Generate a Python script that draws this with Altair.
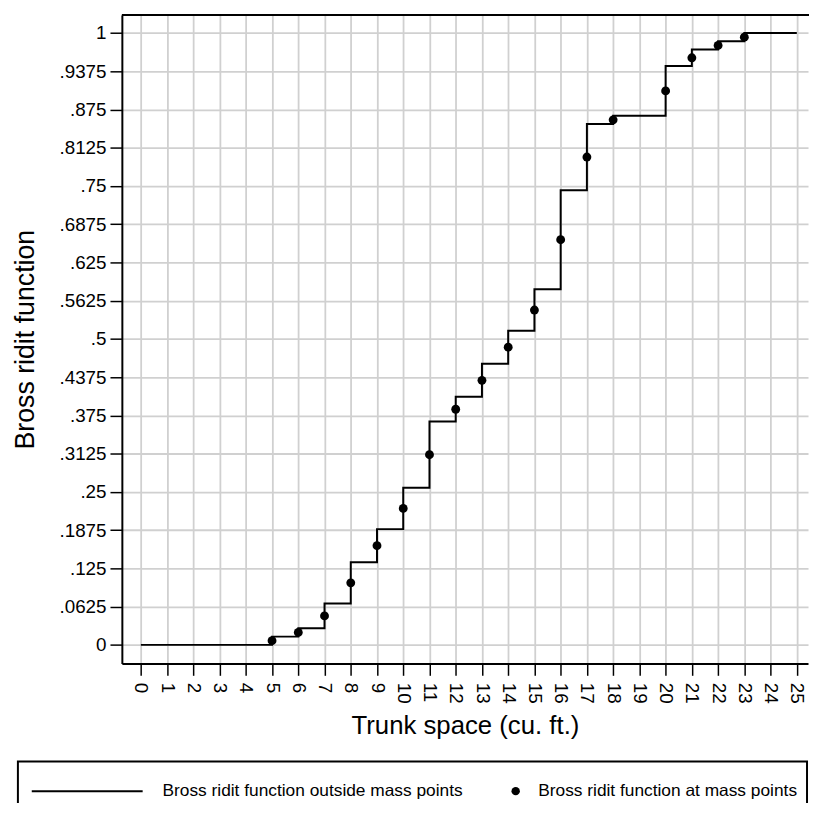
import altair as alt
import pandas as pd

FONT = "Liberation Sans"
LINE_LABEL = "Bross ridit function outside mass points"
PT_LABEL = "Bross ridit function at mass points"

# Step function (value on [x, x+1))
x_line = [0, 1, 2, 3, 4, 5, 6, 7, 8, 9, 10, 11, 12, 13, 14, 15, 16, 17, 18, 19, 20, 21, 22, 23, 24, 25]
y_line = [0, 0, 0, 0, 0, 0.0135, 0.0270, 0.0676, 0.1351, 0.1892, 0.2568, 0.3649, 0.4054,
          0.4595, 0.5135, 0.5811, 0.7432, 0.8514, 0.8649, 0.8649, 0.9459, 0.9730, 0.9865,
          1.0, 1.0, 1.0]

# Values at mass points
x_pts = [5, 6, 7, 8, 9, 10, 11, 12, 13, 14, 15, 16, 17, 18, 20, 21, 22, 23]
y_pts = [0.0068, 0.0203, 0.0473, 0.1014, 0.1622, 0.2230, 0.3108, 0.3851, 0.4324, 0.4865,
         0.5473, 0.6622, 0.7973, 0.8581, 0.9054, 0.9595, 0.9797, 0.9932]

x_ticks = [0, 1, 2, 3, 4, 5, 6, 7, 8, 9, 10, 11, 12, 13, 14, 15, 16, 17, 18, 19, 20, 21, 22, 23, 24, 25]
y_ticks = [0, 0.0625, 0.125, 0.1875, 0.25, 0.3125, 0.375, 0.4375, 0.5, 0.5625, 0.625,
           0.6875, 0.75, 0.8125, 0.875, 0.9375, 1]

line_df = pd.DataFrame({"x": x_line, "y": y_line, "series": LINE_LABEL})
pts_df = pd.DataFrame({"x": x_pts, "y": y_pts, "series2": PT_LABEL})
frame_df = pd.DataFrame({"k": [0]})

xscale = alt.Scale(domain=[-0.724, 25.427], nice=False, zero=False)
yscale = alt.Scale(domain=[-0.0303, 1.0296], nice=False, zero=False)

y_label_expr = ("datum.value == 0 ? '0' : (datum.value == 1 ? '1' : "
                "replace(format(datum.value, '.4~f'), '0.', '.'))")

x_axis = alt.Axis(values=x_ticks, labelAngle=90, title="Trunk space (cu. ft.)",
                  grid=True, tickSize=12, tickWidth=1.5, labelPadding=7,
                  labelFontSize=19, titleFontSize=26, titlePadding=10,
                  domainWidth=2, labelOverlap=False)
y_axis = alt.Axis(values=y_ticks, labelExpr=y_label_expr, title="Bross ridit function",
                  grid=True, tickSize=12, tickWidth=1.5, labelPadding=4,
                  labelFontSize=19, titleFontSize=27, titlePadding=20,
                  domainWidth=2, labelOverlap=False)

line = alt.Chart(line_df).mark_line(interpolate="step-after", strokeWidth=2).encode(
    x=alt.X("x:Q", scale=xscale, axis=x_axis),
    y=alt.Y("y:Q", scale=yscale, axis=y_axis),
    color=alt.Color("series:N", scale=alt.Scale(domain=[LINE_LABEL], range=["black"]),
                    legend=alt.Legend(title=None, orient="none", legendX=-92, legendY=774,
                                      symbolType="stroke", symbolSize=12544,
                                      symbolStrokeWidth=2, symbolStrokeColor="black",
                                      labelFontSize=17.5, labelFont=FONT, labelColor="black",
                                      labelOffset=19, padding=0, labelLimit=0, clipHeight=20)),
)

points = alt.Chart(pts_df).mark_point(filled=True, size=80, color="black", opacity=1).encode(
    x=alt.X("x:Q", scale=xscale, axis=x_axis),
    y=alt.Y("y:Q", scale=yscale, axis=y_axis),
    shape=alt.Shape("series2:N", scale=alt.Scale(domain=[PT_LABEL], range=["circle"]),
                    legend=alt.Legend(title=None, orient="none", legendX=389, legendY=774,
                                      symbolType="circle", symbolSize=72,
                                      symbolFillColor="black", symbolStrokeColor="black",
                                      symbolStrokeWidth=0,
                                      labelFontSize=17.5, labelFont=FONT, labelColor="black",
                                      labelOffset=14, padding=0, labelLimit=0, clipHeight=20)),
)

top_border = alt.Chart(frame_df).mark_rule(color="black", strokeWidth=2).encode(
    x=alt.value(0), x2=alt.value(694), y=alt.value(0)
)

frame = alt.Chart(frame_df).mark_rect(fillOpacity=0, stroke="black", strokeWidth=2).encode(
    x=alt.value(-105), x2=alt.value(692), y=alt.value(754), y2=alt.value(815)
)

chart = alt.layer(line, points, top_border, frame).properties(
    width=693, height=655,
    autosize=alt.AutoSizeParams(type="none"),
    padding={"left": 115, "top": 3, "right": 1, "bottom": 137},
    background="white",
).configure_view(strokeWidth=0).configure_axis(
    labelFont=FONT, titleFont=FONT, labelColor="black", titleColor="black",
    tickColor="black", domainColor="black", gridColor="#d0d0d0", gridWidth=1.8,
    titleFontWeight="normal",
)

chart.save("out.html", embed_options={"renderer": "svg", "actions": False})
